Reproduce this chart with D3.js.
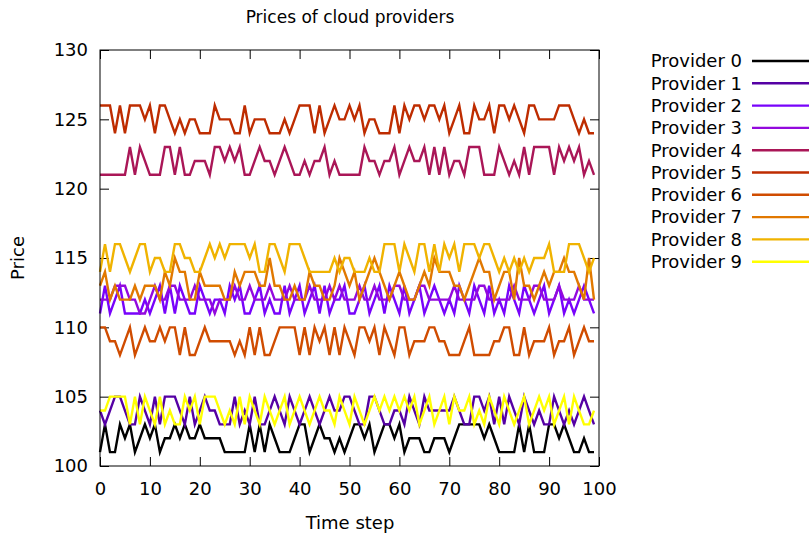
<!DOCTYPE html>
<html><head><meta charset="utf-8">
<script src="https://cdn.jsdelivr.net/npm/d3@7"></script>
<style>body{margin:0;background:#fff}svg{display:block}text{font-family:"DejaVu Sans",sans-serif}</style>
</head><body><svg id="c" width="811" height="541"></svg>
<script>
const seriesNames = ["Provider 0","Provider 1","Provider 2","Provider 3","Provider 4","Provider 5","Provider 6","Provider 7","Provider 8","Provider 9"];
const seriesColors = ["#000000","#5500a4","#7803fb","#9309dd","#aa1657","#be2c00","#d04c00","#e17800","#f0b300","#ffff00"];
const xTicks = [0,10,20,30,40,50,60,70,80,90,100];
const yTicks = [100,105,110,115,120,125,130];

const p0 = [101,103,101,101,103,102,103,101,102,103, 102,103,101,102,102,103,102,103,102,102,
            103,102,102,102,102,101,101,101,101,101, 103,101,103,101,103,102,101,101,101,102,
            103,103,101,102,103,102,102,101,102,101, 102,103,103,102,103,101,102,103,103,102,
            103,101,102,102,102,101,101,102,102,102, 101,102,103,103,103,103,103,102,103,102,
            101,101,101,101,103,101,103,101,101,101, 103,103,102,103,102,101,101,102,101,101];
const p1 = [104,103,104,105,105,104,103,103,105,104, 103,105,103,105,105,105,104,103,105,103,
            104,105,104,104,103,103,103,105,103,104, 103,105,103,103,104,105,104,103,105,104,
            103,104,105,104,103,104,105,104,104,105, 105,104,103,103,105,105,104,103,103,104,
            104,103,105,104,103,105,104,104,104,104, 104,105,104,103,103,105,105,104,105,103,
            105,103,105,104,103,105,104,103,104,103, 103,105,104,103,104,103,104,105,104,103];
const p2 = [111,113,111,112,113,111,111,111,111,112, 111,112,113,111,113,111,113,112,111,111,
            113,112,111,112,112,111,113,112,113,111, 111,112,113,111,112,111,111,113,111,112,
            113,111,112,113,111,113,111,112,112,113, 111,111,112,113,111,112,113,111,113,112,
            111,113,111,112,113,111,112,113,112,111, 112,111,113,112,111,113,112,111,113,111,
            112,111,113,112,111,113,112,111,112,113, 111,112,113,111,112,111,112,113,112,111];
const p3 = [112,112,112,113,113,113,112,112,111,111, 112,113,112,112,113,113,112,112,112,113,
            112,112,112,111,112,112,112,113,112,112, 113,112,112,112,113,112,112,112,113,112,
            112,112,113,112,112,112,113,112,113,112, 112,112,113,112,112,113,112,112,112,113,
            113,112,112,112,113,113,112,112,112,112, 112,113,112,112,112,112,113,113,112,112,
            112,112,112,113,112,112,112,113,113,112, 112,112,113,112,112,112,113,112,112,112];
const p4 = [121,121,121,121,121,121,123,121,123,122, 121,121,121,123,123,121,123,121,121,122,
            122,122,121,123,123,122,123,122,123,121, 121,122,123,122,122,121,122,123,122,121,
            121,122,121,122,122,123,121,122,121,121, 121,121,121,123,122,122,121,122,122,123,
            121,122,123,122,122,123,121,123,121,123, 121,122,122,121,123,123,123,121,121,121,
            123,122,121,122,121,123,121,123,123,123, 123,121,123,122,123,122,123,121,122,121];
const p5 = [126,126,126,124,126,124,126,126,126,125, 126,124,126,126,125,124,125,124,125,125,
            124,124,124,126,125,125,125,124,124,126, 124,125,125,125,124,124,124,125,124,125,
            126,126,126,124,126,124,125,126,125,125, 126,125,126,124,125,125,124,124,124,126,
            124,126,125,126,126,125,126,126,125,126, 124,125,126,124,124,126,125,125,126,124,
            126,126,125,126,125,124,126,126,125,125, 125,125,126,126,126,125,124,125,124,124];
const p6 = [110,110,109,109,108,109,110,108,109,110, 109,109,110,109,110,110,108,110,108,108,
            109,110,109,109,109,109,109,108,109,108, 110,108,110,108,108,109,110,110,110,110,
            108,110,108,110,109,110,108,110,108,110, 109,108,110,110,109,110,108,110,109,108,
            110,110,108,109,109,109,110,110,109,109, 108,108,108,109,110,108,108,108,108,109,
            109,110,110,108,108,110,108,109,109,109, 110,108,109,109,110,108,109,110,109,109];
const p7 = [113,114,112,113,112,112,112,113,112,113, 113,113,112,114,113,115,114,114,112,112,
            114,113,113,113,113,112,112,114,113,114, 114,114,113,113,115,113,113,112,112,113,
            112,112,114,113,113,112,112,113,115,114, 113,114,112,113,114,115,114,113,112,113,
            114,113,112,112,113,114,113,115,114,114, 114,113,113,112,113,114,115,114,114,112,
            113,114,114,112,115,113,113,112,113,114, 113,114,114,115,114,114,113,112,115,112];
const p8 = [114,116,114,116,116,115,114,115,116,116, 114,115,115,114,114,116,116,115,115,114,
            114,115,116,115,116,115,116,116,116,116, 115,116,114,114,116,116,115,114,116,116,
            116,115,114,114,114,114,114,115,114,115, 115,114,114,114,115,114,114,116,116,116,
            114,116,115,114,116,116,114,116,114,116, 115,116,114,116,116,116,115,116,116,115,
            114,115,114,115,114,115,114,115,115,115, 116,114,114,114,116,116,116,115,114,115];
const p9 = [104,104,105,105,105,105,103,105,103,105, 104,103,105,103,104,103,103,105,104,105,
            103,105,105,105,104,103,104,103,105,103, 105,104,103,105,104,103,104,105,103,104,
            105,104,103,104,105,104,104,103,105,104, 103,105,104,103,104,105,104,105,104,105,
            104,105,104,105,103,104,105,103,104,105, 103,105,104,104,105,103,104,103,105,104,
            103,105,104,103,104,105,103,104,105,104, 105,103,104,105,103,105,104,103,103,104];
const seriesValues = [p0,p1,p2,p3,p4,p5,p6,p7,p8,p9];

const svg = d3.select("#c");
const L = 100, R = 599, T = 50, B = 466;
const x = d3.scaleLinear().domain([0,100]).range([L,R]);
const y = d3.scaleLinear().domain([100,130]).range([B,T]);
const font = 18;

// axes
const tl = 9;
const gB = svg.append("g").attr("transform",`translate(0,${B})`)
  .call(d3.axisBottom(x).tickValues(xTicks).tickSizeInner(-tl).tickSizeOuter(0).tickPadding(16));
const gT = svg.append("g").attr("transform",`translate(0,${T})`)
  .call(d3.axisTop(x).tickValues(xTicks).tickSizeInner(-tl).tickSizeOuter(0).tickFormat(""));
const gL = svg.append("g").attr("transform",`translate(${L},0)`)
  .call(d3.axisLeft(y).tickValues(yTicks).tickSizeInner(-tl).tickSizeOuter(0).tickPadding(12));
const gR = svg.append("g").attr("transform",`translate(${R},0)`)
  .call(d3.axisRight(y).tickValues(yTicks).tickSizeInner(-tl).tickSizeOuter(0).tickFormat(""));
[gB,gT,gL,gR].forEach(g=>{
  g.select(".domain").remove();
  g.selectAll("line").attr("stroke","#000");
  g.selectAll("text").attr("font-size",font).attr("font-family","DejaVu Sans, sans-serif").attr("fill","#000");
});
gB.selectAll("text").attr("dy","0.71em");

// lines
const line = d3.line().x((d,i)=>x(i)).y(d=>y(d));
seriesValues.forEach((vals,k)=>{
  svg.append("path").datum(vals).attr("d",line)
    .attr("fill","none").attr("stroke",seriesColors[k]).attr("stroke-width",2.4)
    .attr("stroke-linejoin","miter");
});

// frame
svg.append("rect").attr("x",L).attr("y",T).attr("width",R-L).attr("height",B-T)
  .attr("fill","none").attr("stroke","#000").attr("stroke-width",1);

// title & labels
svg.append("text").attr("x",350).attr("y",23).attr("text-anchor","middle").attr("font-size",17).text("Prices of cloud providers");
svg.append("text").attr("x",350).attr("y",529).attr("text-anchor","middle").attr("font-size",font).text("Time step");
svg.append("text").attr("transform","translate(24,258) rotate(-90)").attr("text-anchor","middle").attr("font-size",font).text("Price");

// legend
const lg = svg.append("g");
seriesNames.forEach((n,k)=>{
  const yy = 61 + k*22.3;
  lg.append("text").attr("x",742).attr("y",yy).attr("dy","0.35em").attr("text-anchor","end").attr("font-size",font).text(n);
  lg.append("line").attr("x1",752).attr("x2",809).attr("y1",yy).attr("y2",yy)
    .attr("stroke",seriesColors[k]).attr("stroke-width",2.4);
});
</script></body></html>
